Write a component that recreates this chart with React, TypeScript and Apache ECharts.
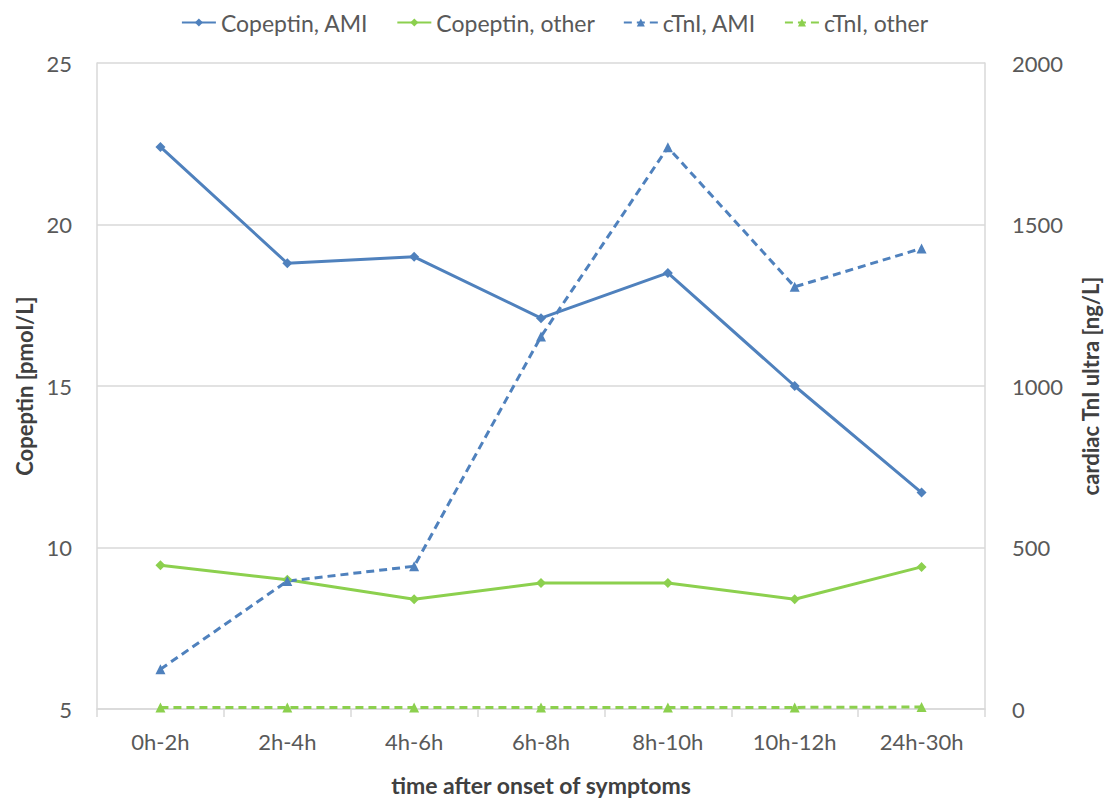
import React, { useEffect, useRef } from "react";
import * as echarts from "echarts";

const categories = ["0h-2h", "2h-4h", "4h-6h", "6h-8h", "8h-10h", "10h-12h", "24h-30h"];
const copeptinAMI = [22.4, 18.8, 19.0, 17.1, 18.5, 15.0, 11.7];
const copeptinOther = [9.45, 9.0, 8.4, 8.9, 8.9, 8.4, 9.4];
const ctniAMI = [123, 396, 442, 1153, 1739, 1307, 1426];
const ctniOther = [5, 5, 5, 5, 5, 5, 6];

const BLUE = "#4f81bd";
const GREEN = "#8cd04e";
const FONT = "Lato, 'Open Sans', sans-serif";

export default function App() {
  const ref = useRef<HTMLDivElement>(null);
  useEffect(() => {
    document.body.style.margin = "0";
    const chart = echarts.init(ref.current!, null, { renderer: "svg" });
    chart.setOption({
      animation: false,
      textStyle: { fontFamily: FONT },
      legend: {
        top: 6,
        left: "center",
        itemWidth: 34,
        itemHeight: 10,
        itemGap: 28,
        textStyle: { fontSize: 23, color: "#595959", fontFamily: FONT },
        data: ["Copeptin, AMI", "Copeptin, other", "cTnI, AMI", "cTnI, other"],
      },
      grid: { left: 97, right: 118, top: 63, bottom: 86, containLabel: false },
      xAxis: {
        type: "category",
        data: categories,
        boundaryGap: true,
        name: "time after onset of symptoms",
        nameLocation: "middle",
        nameGap: 64,
        nameTextStyle: { fontSize: 23, fontWeight: "bold", color: "#404040", fontFamily: FONT },
        axisLine: { lineStyle: { color: "#d9d9d9", width: 1.5 } },
        axisTick: { show: true, length: 8, lineStyle: { color: "#d9d9d9", width: 1.5 } },
        axisLabel: { fontSize: 22, color: "#595959", margin: 21, fontFamily: FONT },
      },
      yAxis: [
        {
          type: "value",
          min: 5,
          max: 25,
          interval: 5,
          name: "Copeptin [pmol/L]",
          nameLocation: "middle",
          nameGap: 58,
          nameTextStyle: { fontSize: 22, fontWeight: "bold", color: "#404040", fontFamily: FONT },
          axisLine: { show: true, lineStyle: { color: "#d9d9d9", width: 1.5 } },
          axisTick: { show: false },
          axisLabel: { fontSize: 22, color: "#595959", margin: 25, fontFamily: FONT },
          splitLine: { show: true, lineStyle: { color: "#d9d9d9", width: 1.5 } },
        },
        {
          type: "value",
          min: 0,
          max: 2000,
          interval: 500,
          name: "cardiac TnI ultra [ng/L]",
          nameLocation: "middle",
          nameGap: 94,
          nameTextStyle: { fontSize: 22, fontWeight: "bold", color: "#404040", fontFamily: FONT },
          axisLine: { show: true, lineStyle: { color: "#d9d9d9", width: 1.5 } },
          axisTick: { show: false },
          axisLabel: {
            fontSize: 22,
            color: "#595959",
            margin: 27,
            fontFamily: FONT,
            formatter: (v: number) => String(v),
          },
          splitLine: { show: false },
        },
      ],
      series: [
        {
          name: "Copeptin, AMI",
          type: "line",
          yAxisIndex: 0,
          data: copeptinAMI,
          symbol: "diamond",
          symbolSize: 10,
          itemStyle: { color: BLUE },
          lineStyle: { color: BLUE, width: 3 },
        },
        {
          name: "Copeptin, other",
          type: "line",
          yAxisIndex: 0,
          data: copeptinOther,
          symbol: "diamond",
          symbolSize: 10,
          itemStyle: { color: GREEN },
          lineStyle: { color: GREEN, width: 3 },
        },
        {
          name: "cTnI, AMI",
          type: "line",
          yAxisIndex: 1,
          data: ctniAMI,
          symbol: "triangle",
          symbolSize: 10,
          itemStyle: { color: BLUE },
          lineStyle: { color: BLUE, width: 3, type: [8, 5] },
        },
        {
          name: "cTnI, other",
          type: "line",
          yAxisIndex: 1,
          data: ctniOther,
          symbol: "triangle",
          symbolSize: 10,
          itemStyle: { color: GREEN },
          lineStyle: { color: GREEN, width: 3, type: [8, 5] },
        },
      ],
    });
    return () => chart.dispose();
  }, []);
  return <div ref={ref} style={{ width: 1109, height: 801 }} />;
}
